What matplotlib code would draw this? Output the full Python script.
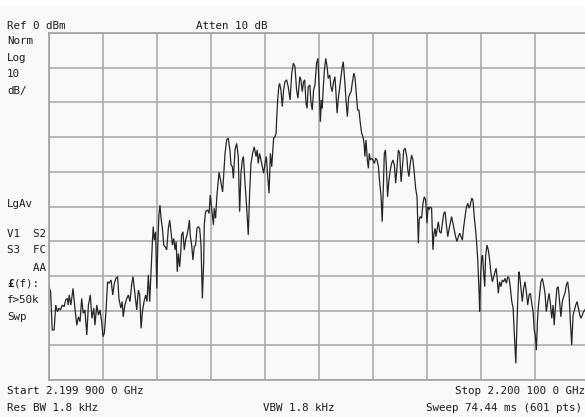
import matplotlib
matplotlib.use("Agg")
import matplotlib.pyplot as plt
from matplotlib.patches import Rectangle
import numpy as np

# Swept trace: offset from start frequency (kHz) and marker level (dBm)
freq_khz = [
    0.0, 0.6, 1.2, 1.9, 2.5, 3.1, 3.7, 4.3, 4.9, 5.6,
    6.2, 6.8, 7.1, 7.5, 8.1, 8.9, 9.6, 10.3, 10.9, 11.5,
    12.1, 12.7, 13.3, 14.0, 14.6, 15.3, 15.9, 16.6, 17.0, 17.7,
    18.3, 18.9, 19.5, 20.0, 20.5, 21.1, 21.7, 22.3, 23.0, 23.6,
    24.2, 24.8, 25.4, 25.9, 26.6, 27.1, 27.5, 28.1, 28.8, 29.4,
    30.0, 30.6, 31.1, 32.5, 33.1, 33.6, 34.1, 34.6, 35.2, 35.8,
    36.3, 36.8, 37.3, 37.8, 38.3, 38.6, 39.0, 39.5, 39.9, 40.3,
    40.7, 41.1, 41.5, 42.0, 42.5, 43.0, 43.6, 44.2, 44.7, 45.2,
    45.7, 46.2, 46.7, 47.1, 47.5, 47.9, 48.4, 48.8, 49.1, 49.6,
    50.1, 50.6, 51.1, 51.6, 52.0, 52.3, 52.9, 53.3, 53.8, 54.3,
    54.8, 55.3, 55.8, 56.3, 56.8, 57.3, 57.5, 58.0, 58.8, 59.3,
    59.7, 60.5, 60.9, 61.2, 61.7, 62.2, 63.0, 64.3, 65.2, 65.8,
    66.4, 67.0, 67.4, 67.9, 68.3, 68.9, 69.5, 70.1, 70.6, 71.1,
    71.6, 72.0, 72.6, 73.2, 73.8, 74.3, 74.8, 75.4, 76.0, 76.7,
    77.1, 77.5, 78.0, 78.5, 79.0, 79.5, 80.0, 80.5, 81.0, 81.5,
    82.0, 82.5, 82.9, 83.2, 83.7, 84.1, 84.3, 84.7, 85.1, 85.4,
    85.9, 86.4, 86.9, 87.4, 88.0, 88.6, 89.3, 89.9, 90.5, 91.1,
    91.7, 92.2, 92.9, 93.3, 93.8, 94.3, 94.7, 95.2, 95.6, 96.0,
    96.6, 97.0, 97.5, 98.0, 98.5, 99.1, 99.6, 100.1, 100.5, 100.9,
    101.2, 101.6, 102.0, 102.5, 103.0, 103.4, 104.0, 104.4, 104.9, 105.4,
    105.9, 106.3, 106.7, 107.1, 107.7, 108.1, 108.6, 109.0, 109.5, 110.0,
    110.5, 111.0, 111.5, 111.9, 112.3, 112.9, 113.3, 113.8, 114.3, 114.8,
    115.3, 115.8, 116.3, 116.7, 117.0, 117.4, 117.9, 118.3, 118.6, 119.0,
    119.5, 120.0, 120.5, 121.0, 121.5, 122.0, 122.5, 123.0, 123.4, 123.8,
    124.2, 124.6, 124.9, 125.4, 125.9, 126.4, 126.9, 127.4, 127.9, 128.4,
    128.9, 129.4, 129.9, 130.4, 130.9, 131.4, 131.9, 132.5, 132.9, 133.3,
    133.8, 134.3, 134.8, 135.3, 135.8, 136.3, 136.8, 137.1, 137.5, 138.0,
    138.5, 139.0, 139.5, 140.0, 140.4, 140.7, 141.2, 141.7, 142.2, 142.6,
    143.0, 143.3, 143.7, 144.2, 144.7, 145.2, 145.7, 146.2, 146.7, 147.1,
    147.7, 148.1, 148.6, 149.1, 149.6, 150.1, 150.6, 151.1, 151.6, 152.1,
    152.6, 153.1, 153.6, 154.1, 154.6, 155.1, 155.6, 156.0, 156.6, 157.0,
    157.5, 158.0, 158.4, 158.8, 159.3, 159.5, 159.9, 160.3, 160.6, 161.0,
    161.4, 161.7, 162.2, 162.7, 163.2, 163.7, 164.2, 164.7, 165.2, 165.6,
    166.0, 166.4, 166.9, 167.4, 167.9, 168.4, 168.9, 169.4, 169.9, 170.4,
    170.9, 171.4, 171.9, 172.3, 172.9, 173.2, 173.6, 174.0, 174.3, 174.8,
    175.3, 175.8, 176.3, 176.8, 177.3, 177.8, 178.3, 178.8, 179.3, 179.7,
    180.1, 180.5, 180.9, 181.2, 181.7, 182.2, 182.7, 183.2, 183.7, 184.2,
    184.7, 185.2, 185.7, 186.2, 186.7, 187.1, 187.7, 188.1, 188.6, 189.1,
    189.6, 190.1, 190.6, 191.1, 191.6, 192.1, 192.6, 193.1, 193.6, 194.1,
    194.6, 195.1, 195.6, 196.0, 196.6, 197.0, 197.5, 198.0, 198.5, 200.0,
]
level_dbm = [
    -73.1, -74.6, -85.6, -85.6, -78.4, -80.3, -79.3, -79.8, -78.4, -78.9,
    -76.9, -76.5, -78.4, -75.5, -78.4, -73.6, -79.3, -84.2, -81.8, -83.2,
    -76.5, -80.8, -79.8, -87.0, -78.4, -75.5, -82.2, -79.3, -84.2, -78.4,
    -81.3, -79.8, -83.2, -87.5, -86.5, -80.3, -71.7, -72.1, -71.2, -75.5,
    -72.1, -70.7, -70.2, -76.5, -79.3, -77.4, -81.8, -78.4, -76.5, -75.5,
    -77.4, -72.6, -70.2, -79.8, -74.1, -75.5, -85.1, -80.3, -77.4, -75.5,
    -77.4, -69.7, -77.4, -68.8, -60.1, -55.8, -59.7, -57.3, -73.6, -61.1,
    -52.5, -49.6, -53.4, -56.3, -61.1, -61.6, -62.5, -56.3, -53.9, -57.3,
    -61.1, -59.2, -62.5, -60.1, -68.8, -63.5, -67.4, -63.0, -58.2, -57.3,
    -62.5, -59.7, -58.2, -56.3, -53.9, -58.2, -61.6, -65.4, -61.6, -61.1,
    -56.3, -55.8, -56.3, -61.1, -76.5, -65.9, -55.3, -51.5, -51.0, -52.0,
    -46.7, -52.5, -55.3, -50.5, -53.4, -46.7, -40.1, -45.8, -34.7, -30.8,
    -30.3, -33.7, -38.0, -38.5, -41.9, -33.7, -31.8, -35.6, -51.5, -40.4,
    -36.6, -35.6, -43.3, -50.1, -58.2, -46.2, -37.6, -34.7, -32.8, -35.6,
    -33.7, -37.6, -34.7, -36.6, -38.5, -40.4, -37.6, -35.6, -41.4, -46.2,
    -34.7, -38.5, -33.7, -30.3, -29.9, -28.9, -25.1, -19.3, -15.5, -14.5,
    -16.4, -21.2, -16.4, -14.0, -13.5, -15.5, -19.3, -11.6, -8.7, -9.7,
    -16.4, -18.8, -12.6, -13.5, -16.9, -14.0, -13.5, -20.3, -21.7, -15.5,
    -15.0, -19.8, -22.2, -16.4, -15.0, -8.7, -7.3, -16.4, -25.6, -19.3,
    -21.7, -15.5, -10.7, -7.3, -9.7, -13.1, -12.1, -15.5, -16.9, -14.0,
    -12.6, -17.4, -23.1, -19.3, -15.5, -13.1, -9.7, -8.3, -13.5, -19.3,
    -24.1, -18.4, -17.4, -16.9, -14.5, -11.6, -12.6, -17.4, -22.2, -22.2,
    -26.0, -28.9, -29.9, -31.8, -35.6, -30.8, -36.6, -39.0, -34.7, -36.6,
    -36.1, -36.6, -37.6, -36.1, -36.6, -38.5, -43.3, -47.2, -54.4, -45.2,
    -34.7, -33.7, -37.6, -47.2, -42.4, -39.5, -37.6, -36.6, -38.0, -43.3,
    -38.5, -33.7, -34.7, -42.9, -38.5, -33.7, -33.2, -35.6, -39.5, -41.4,
    -37.6, -35.2, -36.6, -40.4, -44.8, -47.2, -60.6, -53.9, -52.9, -53.4,
    -49.1, -47.2, -48.1, -54.8, -50.1, -51.0, -50.1, -50.5, -62.5, -57.7,
    -56.3, -58.7, -56.8, -54.4, -57.3, -57.7, -54.8, -52.0, -51.5, -54.8,
    -58.7, -56.8, -54.8, -52.9, -54.8, -56.8, -58.7, -60.1, -58.7, -57.7,
    -58.7, -59.7, -55.8, -52.9, -50.1, -49.1, -50.5, -49.6, -47.6, -48.1,
    -52.9, -56.8, -60.6, -65.4, -75.0, -80.3, -69.3, -64.5, -64.0, -69.3,
    -73.1, -64.5, -61.1, -62.5, -65.4, -69.3, -71.7, -70.2, -68.8, -67.8,
    -70.7, -75.0, -71.7, -73.1, -71.2, -71.7, -70.7, -72.1, -70.2, -70.7,
    -73.6, -77.4, -79.3, -86.1, -95.2, -87.0, -77.4, -68.8, -69.7, -73.6,
    -77.4, -73.6, -71.7, -74.6, -78.4, -75.5, -75.0, -77.9, -80.3, -85.6,
    -87.0, -91.4, -83.2, -79.3, -75.5, -71.7, -70.7, -72.6, -75.0, -80.3,
    -77.4, -75.0, -77.9, -82.2, -78.4, -84.2, -77.4, -73.6, -73.1, -77.4,
    -81.8, -77.4, -76.0, -75.0, -72.6, -71.7, -75.0, -83.2, -89.9, -81.3,
    -79.8, -78.4, -77.4, -78.9, -81.3, -82.2, -81.3, -80.3, -79.8, -77.5,
]

# Annotation block on the left of the graticule
side_labels = ["Norm", "Log", "10", "dB/", "LgAv", "V1  S2", "S3  FC", "    AA", "", "f>50k", "Swp"]
side_baselines = [44, 61, 77, 94, 207, 237, 253, 271, 287, 303, 320]

ref_text = "Ref 0 dBm"
atten_text = "Atten 10 dB"
start_text = "Start 2.199 900 0 GHz"
stop_text = "Stop 2.200 100 0 GHz"
rbw_text = "Res BW 1.8 kHz"
vbw_text = "VBW 1.8 kHz"
sweep_text = "Sweep 74.44 ms (601 pts)"

W, H = 585, 417
BG = "#f9f9f9"
GRID = "#a6a6a6"
INK = "#1c1c1c"
FONT = "DejaVu Sans Mono"
FS = 7.8

fig = plt.figure(figsize=(W / 100, H / 100), dpi=100, facecolor=BG)
fig.patches.append(Rectangle((0, 1 - 6 / H), 1, 6 / H, transform=fig.transFigure,
                             facecolor="white", edgecolor="none"))

# Graticule runs 10 x 10 divisions; the right edge falls just outside the frame
ax = fig.add_axes([49 / W, 1 - 380 / H, 540 / W, 347 / H])
ax.set_facecolor(BG)
ax.plot(freq_khz, level_dbm, color="#262626", lw=0.9, solid_joinstyle="miter")
ax.set_xlim(0, 200)
ax.set_ylim(-100, 0)
ax.set_xticks(np.arange(0, 201, 20))
ax.set_yticks(np.arange(-100, 1, 10))
ax.grid(True, color=GRID, lw=1.1)
ax.set_axisbelow(True)
ax.tick_params(length=0, labelbottom=False, labelleft=False)
for spine in ax.spines.values():
    spine.set_color(GRID)
    spine.set_linewidth(1.3)


def put(x, y, s, **kw):
    fig.text(x / W, 1 - y / H, s, fontsize=FS, family=FONT, color=INK,
             va="baseline", **kw)


put(7, 29, ref_text)
put(196, 29, atten_text)
for s, yb in zip(side_labels, side_baselines):
    put(7, yb, s)
put(7, 287, "£", fontweight="bold")
put(13.6, 287, "(f):")

put(7, 394, start_text)
put(585, 394, stop_text, ha="right")
put(7, 411, rbw_text)
put(263, 411, vbw_text)
put(582, 411, sweep_text, ha="right")

fig.savefig("out.png", dpi=100, facecolor=fig.get_facecolor())
